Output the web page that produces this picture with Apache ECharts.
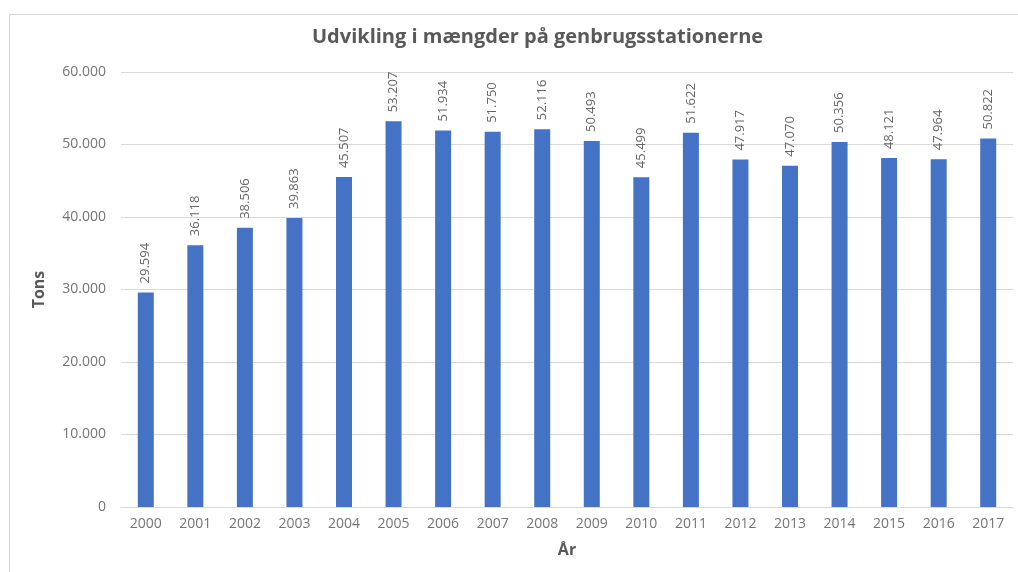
<!DOCTYPE html>
<html>
<head>
<meta charset="utf-8">
<script src="https://cdn.jsdelivr.net/npm/echarts@6/dist/echarts.min.js"></script>
<style>
  html, body { margin: 0; padding: 0; background: #fff; }
  #chart { width: 1018px; height: 572px; }
</style>
</head>
<body>
<div id="chart"></div>
<script>
const years = ['2000', '2001', '2002', '2003', '2004', '2005', '2006', '2007', '2008',
  '2009', '2010', '2011', '2012', '2013', '2014', '2015', '2016', '2017']
const tons = [29594, 36118, 38506, 39863, 45507, 53207, 51934, 51750, 52116,
  50493, 45499, 51622, 47917, 47070, 50356, 48121, 47964, 50822]

// dansk talformat: punktum som tusindtalsseparator
const fmt = v => String(v).replace(/\B(?=(\d{3})+(?!\d))/g, '.')

const font = '"Open Sans", "Noto Sans", sans-serif'
const chart = echarts.init(document.getElementById('chart'))

chart.setOption({
  animation: false,
  textStyle: { fontFamily: font },
  graphic: [{
    type: 'rect',
    shape: { x: 9.5, y: 14.5, width: 1030, height: 600 },
    style: { fill: 'none', stroke: '#d9d9d9', lineWidth: 1 }
  }],
  title: {
    text: 'Udvikling i mængder på genbrugsstationerne',
    left: 307,
    top: 22,
    textStyle: { fontFamily: font, fontSize: 20, fontWeight: 'bold', color: '#595959' }
  },
  grid: { left: 121, right: 5, top: 72, bottom: 65 },
  xAxis: {
    type: 'category',
    data: years,
    name: 'År',
    nameLocation: 'middle',
    nameGap: 35,
    nameTextStyle: { fontFamily: font, fontSize: 16, fontWeight: 'bold', color: '#595959' },
    axisTick: { show: false },
    axisLine: { lineStyle: { color: '#d9d9d9' } },
    axisLabel: { color: '#757575', fontSize: 14, margin: 10 }
  },
  yAxis: {
    type: 'value',
    min: 0,
    max: 60000,
    interval: 10000,
    name: 'Tons',
    nameLocation: 'middle',
    nameGap: 74,
    nameTextStyle: { fontFamily: font, fontSize: 16, fontWeight: 'bold', color: '#595959' },
    axisLabel: { color: '#757575', fontSize: 14, margin: 15, formatter: fmt },
    splitLine: { lineStyle: { color: '#d9d9d9' } }
  },
  series: [{
    type: 'bar',
    data: tons,
    barWidth: 16,
    itemStyle: { color: '#4472c4' },
    label: {
      show: true,
      position: 'top',
      rotate: 90,
      align: 'left',
      verticalAlign: 'middle',
      distance: 9,
      color: '#666',
      fontSize: 13,
      formatter: p => fmt(p.value)
    }
  }]
})
</script>
</body>
</html>
